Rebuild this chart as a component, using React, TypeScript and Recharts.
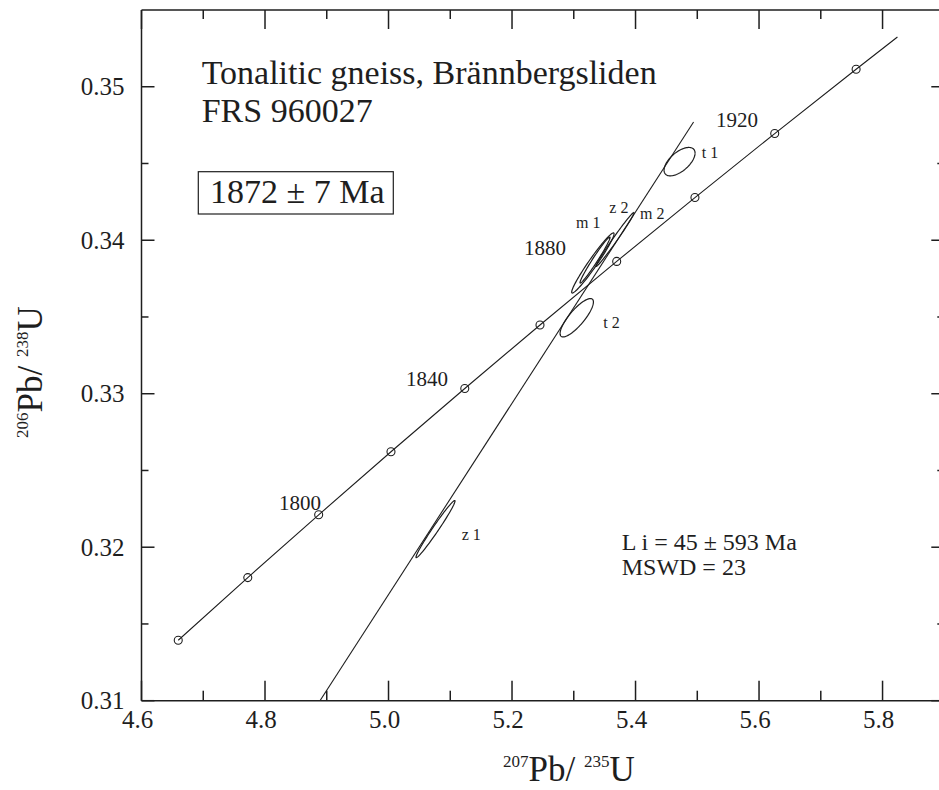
import React from 'react';
import { ComposedChart, Line, XAxis, YAxis } from 'recharts';

const FONT = "'Liberation Serif', 'DejaVu Serif', serif";
const INK = '#1e1e1e';
const TXT: React.CSSProperties = { fontFamily: FONT };

// ---- axis ticks ----
const xMajorTicks = [4.6, 4.8, 5.0, 5.2, 5.4, 5.6, 5.8];
const xMinorTicks = [4.7, 4.9, 5.1, 5.3, 5.5, 5.7, 5.9];
const yMajorTicks = [0.31, 0.32, 0.33, 0.34, 0.35];
const yMinorTicks = [0.315, 0.325, 0.335, 0.345];
const xTicks = [...xMajorTicks, ...xMinorTicks].sort((a, b) => a - b);
const yTicks = [...yMajorTicks, ...yMinorTicks].sort((a, b) => a - b);

// ---- concordia (207Pb/235U, 206Pb/238U) at ages in Ma ----
const concordiaAges = [1760, 1780, 1800, 1820, 1840, 1860, 1880, 1900, 1920, 1940, 1950];
const concordia207 = [4.6595, 4.7721, 4.8869, 5.004, 5.1235, 5.2453, 5.3695, 5.4962, 5.6254, 5.7572, 5.8241];
const concordia206 = [0.31394, 0.31802, 0.32211, 0.32622, 0.33034, 0.33448, 0.33862, 0.34278, 0.34695, 0.35114, 0.35324];
const markedAges = [1760, 1780, 1800, 1820, 1840, 1860, 1880, 1900, 1920, 1940];

// ---- discordia ----
const discordia207 = [4.889, 5.494];
const discordia206 = [0.31, 0.3477];

// ---- error ellipses: centre, extents, error correlation ----
const ellipseNames = ['z1', 't2', 'm1', 'm2', 'z2', 't1'];
const ellipseX = [5.0761, 5.3048, 5.3309, 5.3344, 5.3668, 5.4713];
const ellipseY = [0.32118, 0.33495, 0.33852, 0.33871, 0.34005, 0.34512];
const ellipseSX = [0.0316, 0.027, 0.0343, 0.0243, 0.0308, 0.0251];
const ellipseSY = [0.00186, 0.00125, 0.00196, 0.0015, 0.00176, 0.000926];
const ellipseRho = [0.983, 0.82, 0.97, 0.98, 0.99, 0.6];

const concordiaData = concordiaAges.map((a, i) => ({ age: a, x: concordia207[i], y: concordia206[i] }));
const markerData = concordiaData.filter((d) => markedAges.includes(d.age));
const discordiaData = discordia207.map((x, i) => ({ x, y: discordia206[i] }));

function ellipseOutline(i: number) {
  const pts: { x: number; y: number }[] = [];
  const n = 96;
  const r = ellipseRho[i];
  const s = Math.sqrt(1 - r * r);
  for (let k = 0; k <= n; k++) {
    const t = (2 * Math.PI * k) / n;
    pts.push({
      x: ellipseX[i] + ellipseSX[i] * Math.cos(t),
      y: ellipseY[i] + ellipseSY[i] * (r * Math.cos(t) + s * Math.sin(t)),
    });
  }
  return pts;
}
const ellipseData = ellipseNames.map((_, i) => ellipseOutline(i));

// ---- tick renderers (inward ticks) ----
function BottomTick(props: any) {
  const { x, y, payload } = props;
  const v = payload.value;
  const major = xMajorTicks.includes(v);
  return (
    <g>
      <line x1={x} y1={y} x2={x} y2={y - (major ? 20 : 10)} stroke={INK} strokeWidth={1.5} />
      {major && (
        <text x={x - 4} y={y + 27.6} textAnchor="middle" fontSize={25} style={TXT} fill={INK}>
          {v.toFixed(1)}
        </text>
      )}
    </g>
  );
}
function TopTick(props: any) {
  const { x, y, payload } = props;
  const major = xMajorTicks.includes(payload.value);
  return <line x1={x} y1={y} x2={x} y2={y + (major ? 19 : 9)} stroke={INK} strokeWidth={1.5} />;
}
function LeftTick(props: any) {
  const { x, y, payload } = props;
  const v = payload.value;
  const major = yMajorTicks.includes(v);
  return (
    <g>
      <line x1={x} y1={y} x2={x + (major ? 13 : 7)} y2={y} stroke={INK} strokeWidth={1.5} />
      {major && (
        <text x={x - 17} y={y + 8.3} textAnchor="end" fontSize={25} style={TXT} fill={INK}>
          {v.toFixed(2)}
        </text>
      )}
    </g>
  );
}
function RightTick(props: any) {
  const { x, y, payload } = props;
  const major = yMajorTicks.includes(payload.value);
  return <line x1={x} y1={y} x2={x - (major ? 13 : 7)} y2={y} stroke={INK} strokeWidth={1.5} />;
}

const axisLine = { stroke: INK, strokeWidth: 1.5 };

export default function App() {
  return (
    <div style={{ position: 'absolute', left: 0, top: 0, width: 939, height: 790, overflow: 'hidden', background: '#fff', fontFamily: FONT }}>
      <ComposedChart width={1000} height={790} margin={{ top: 9, right: 45.7, bottom: 29.3, left: 81.5 }} style={TXT}>
        <XAxis xAxisId="b" dataKey="x" type="number" orientation="bottom" domain={[4.6, 5.9]} allowDataOverflow
          ticks={xTicks} interval={0} tickSize={0} tickMargin={0} tickLine={false} tick={BottomTick} axisLine={axisLine} height={60} />
        <XAxis xAxisId="t" dataKey="x" type="number" orientation="top" domain={[4.6, 5.9]} allowDataOverflow
          ticks={xTicks} interval={0} tickSize={0} tickMargin={0} tickLine={false} tick={TopTick} axisLine={axisLine} height={1} />
        <YAxis yAxisId="l" dataKey="y" type="number" orientation="left" domain={[0.31, 0.355]} allowDataOverflow
          ticks={yTicks} interval={0} tickSize={0} tickMargin={0} tickLine={false} tick={LeftTick} axisLine={axisLine} width={60} />
        <YAxis yAxisId="r" dataKey="y" type="number" orientation="right" domain={[0.31, 0.355]} allowDataOverflow
          ticks={yTicks} interval={0} tickSize={0} tickMargin={0} tickLine={false} tick={RightTick} axisLine={axisLine} width={10} />

        <Line xAxisId="t" yAxisId="r" data={markerData} dataKey="y" stroke="none" dot={false} activeDot={false} isAnimationActive={false} />

        <Line xAxisId="b" yAxisId="l" data={concordiaData} dataKey="y" type="linear" stroke={INK} strokeWidth={1.1}
          dot={false} activeDot={false} isAnimationActive={false} />
        <Line xAxisId="b" yAxisId="l" data={markerData} dataKey="y" stroke="none"
          dot={{ r: 4, fill: 'none', stroke: INK, strokeWidth: 1.1 }} activeDot={false} isAnimationActive={false} />
        <Line xAxisId="b" yAxisId="l" data={discordiaData} dataKey="y" type="linear" stroke={INK} strokeWidth={1.1}
          dot={false} activeDot={false} isAnimationActive={false} />
        {ellipseData.map((d, i) => (
          <Line key={ellipseNames[i]} xAxisId="b" yAxisId="l" data={d} dataKey="y" type="linear" stroke={INK} strokeWidth={1.2}
            dot={false} activeDot={false} isAnimationActive={false} />
        ))}

        <g style={TXT} fill={INK}>
          <text x={201.7} y={84} fontSize={34} style={TXT}>Tonalitic gneiss, Brännbergsliden</text>
          <text x={201.7} y={122} fontSize={34} style={TXT}>FRS 960027</text>
          <rect x={198.3} y={171.7} width={195} height={42.3} fill="none" stroke={INK} strokeWidth={1.2} />
          <text x={210} y={203.3} fontSize={34} style={TXT}>1872 ± 7 Ma</text>

          <text x={279} y={510} fontSize={21} style={TXT}>1800</text>
          <text x={406} y={386} fontSize={21} style={TXT}>1840</text>
          <text x={524} y={255} fontSize={21} style={TXT}>1880</text>
          <text x={716} y={127} fontSize={21} style={TXT}>1920</text>

          <text x={701.7} y={158.3} fontSize={16} style={TXT}>t 1</text>
          <text x={603.3} y={328.3} fontSize={16} style={TXT}>t 2</text>
          <text x={576} y={228.3} fontSize={16} style={TXT}>m 1</text>
          <text x={609.3} y={213.3} fontSize={16} style={TXT}>z 2</text>
          <text x={640} y={219} fontSize={16} style={TXT}>m 2</text>
          <text x={461.7} y={540} fontSize={16} style={TXT}>z 1</text>

          <text x={621.7} y={550} fontSize={24} style={TXT}>L i = 45 ± 593 Ma</text>
          <text x={621.7} y={575} fontSize={24} style={TXT}>MSWD = 23</text>

          <text x={503} y={781} fontSize={35} style={TXT}>
            <tspan fontSize={17} dy={-14}>207</tspan>
            <tspan dy={14}>Pb/ </tspan>
            <tspan fontSize={17} dy={-14}>235</tspan>
            <tspan dy={14}>U</tspan>
          </text>
          <text x={42} y={438} fontSize={35} style={TXT} transform="rotate(-90 42 438)">
            <tspan fontSize={17} dy={-14}>206</tspan>
            <tspan dy={14}>Pb/ </tspan>
            <tspan fontSize={17} dy={-14}>238</tspan>
            <tspan dy={14}>U</tspan>
          </text>
        </g>
      </ComposedChart>
    </div>
  );
}
